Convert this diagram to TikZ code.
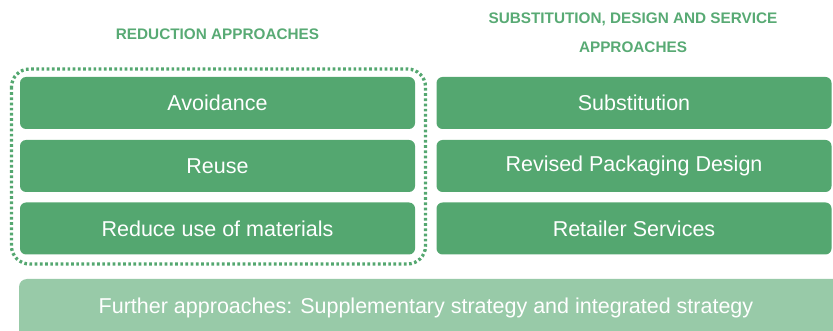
\documentclass[tikz,border=0pt]{standalone}
\usepackage{fontspec}
\setmainfont{Liberation Sans}
\definecolor{boxgreen}{RGB}{84,167,112}
\definecolor{headgreen}{RGB}{88,170,116}
\definecolor{lightgreen}{RGB}{152,202,168}
\begin{document}
\begin{tikzpicture}[x=1pt,y=-1pt,
  gbox/.style={fill=boxgreen, draw=none, rounded corners=6pt, minimum width=395pt, minimum height=52pt, inner sep=0pt, text=white, font=\fontsize{21.5}{24}\selectfont},
  header/.style={text=headgreen, font=\bfseries\fontsize{15.3}{29}\selectfont, align=center, inner sep=0pt},
  dotframe/.style={draw=boxgreen, line width=3.3pt, dash pattern=on 2.7pt off 2.5pt, rounded corners=18pt}
]
\useasboundingbox (0,0) rectangle (833,331);
\begin{scope}
\clip (0,0) rectangle (833,331);
% headers
\node[header] (h1) at (217.5,34) {REDUCTION APPROACHES};
\node[header] (h2) at (633,32.5) {SUBSTITUTION, DESIGN AND SERVICE\\APPROACHES};
% left column
\node[gbox] (avoid) at (217.5,103) {Avoidance};
\node[gbox] (reuse) at (217.5,166) {Reuse};
\node[gbox] (reduce) at (217.5,228.5) {Reduce use of materials};
% right column
\node[gbox] (subst) at (634,103) {Substitution};
\node[gbox] (design) at (634,166) {Revised Packaging Design};
\node[gbox] (retail) at (634,228.5) {Retailer Services};
% dotted frame
\draw[dotframe] (11.5,69) rectangle (425.5,264);
% bottom box
\fill[lightgreen, rounded corners=8pt] (19,279) rectangle (842,360);
\node[text=white, font=\fontsize{21.5}{24}\selectfont, inner sep=0pt] (further) at (426,308) {Further approaches: Supplementary strategy and integrated strategy};
\end{scope}
\end{tikzpicture}
\end{document}
